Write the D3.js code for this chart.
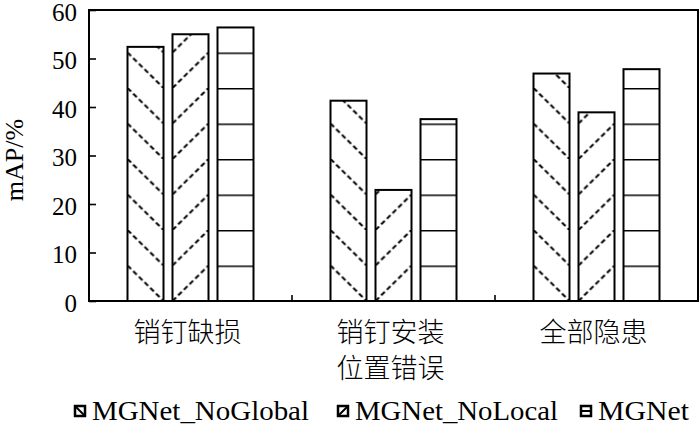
<!DOCTYPE html>
<html><head><meta charset="utf-8">
<script src="https://cdn.jsdelivr.net/npm/d3@7"></script>
<style>
html,body{margin:0;padding:0;background:#fff;}
svg{display:block;}
</style></head>
<body>
<svg id="chart" width="700" height="441"></svg>
<script>
const categories = ["销钉缺损", "销钉安装|位置错误", "全部隐患"];
const seriesNames = ["MGNet_NoGlobal", "MGNet_NoLocal", "MGNet"];
const noGlobal = [52.4, 41.3, 46.9];
const noLocal  = [55.0, 22.9, 38.9];
const mgnet    = [56.4, 37.5, 47.8];
const yTicks = [0, 10, 20, 30, 40, 50, 60];
const yLabel = "mAP/%";

const seriesValues = [noGlobal, noLocal, mgnet];
const svg = d3.select("#chart");
const L = 89, R = 698, T = 10, B = 301;
const serif = "Liberation Serif, DejaVu Serif, serif";
const cjk = "Noto Sans CJK SC, Noto Sans, sans-serif";

const x = d3.scaleBand().domain(categories).range([L, R]).paddingInner(0).paddingOuter(0);
const xs = d3.scaleBand().domain(seriesNames).range([38.5, 164.5]).paddingInner(0.2).paddingOuter(0);
const y = d3.scaleLinear().domain([0, 60]).range([B, T]);
const tileH = 35.5;

const defs = svg.append("defs");
const rows = [];
categories.forEach((c, ci) => seriesNames.forEach((s, si) => rows.push({c, ci, s, si, v: seriesValues[si][ci]})));

// per-bar patterns
rows.forEach((d, i) => {
  const bx = x(d.c) + xs(d.s), w = xs.bandwidth();
  const p = defs.append("pattern").attr("id", "pat" + i)
    .attr("patternUnits", "userSpaceOnUse")
    .attr("x", bx).attr("y", y(0)).attr("width", w).attr("height", tileH);
  p.append("rect").attr("width", w).attr("height", tileH).attr("fill", "#fff");
  if (d.si === 0) {
    p.append("line").attr("x1", 0).attr("y1", 0).attr("x2", w).attr("y2", tileH)
      .attr("stroke", "#000").attr("stroke-width", 2).attr("stroke-dasharray", "5,3");
  } else if (d.si === 1) {
    p.append("line").attr("x1", 0).attr("y1", tileH).attr("x2", w).attr("y2", 0)
      .attr("stroke", "#000").attr("stroke-width", 2).attr("stroke-dasharray", "5,3");
  } else {
    p.append("line").attr("x1", 0).attr("y1", 0.75).attr("x2", w).attr("y2", 0.75)
      .attr("stroke", "#000").attr("stroke-width", 1.6);
  }
});

// bars
svg.append("g").selectAll("rect").data(rows).join("rect")
  .attr("x", d => x(d.c) + xs(d.s))
  .attr("y", d => y(d.v))
  .attr("width", xs.bandwidth())
  .attr("height", d => y(0) - y(d.v))
  .attr("fill", (d, i) => `url(#pat${i})`)
  .attr("stroke", "#000").attr("stroke-width", 2);

// frame
svg.append("rect").attr("x", L).attr("y", T).attr("width", R - L).attr("height", B - T)
  .attr("fill", "none").attr("stroke", "#000").attr("stroke-width", 2);

// y axis
const yAxis = svg.append("g").attr("transform", `translate(${L},0)`)
  .call(d3.axisLeft(y).tickValues(yTicks).tickSize(-7).tickSizeOuter(0).tickPadding(13));
yAxis.select(".domain").remove();
yAxis.selectAll(".tick line").attr("stroke", "#000").attr("stroke-width", 1.6);
yAxis.selectAll(".tick text").attr("font-family", serif).attr("font-size", 25)
  .attr("fill", "#000").attr("x", -12).attr("dy", "0.4em");

// x axis category separators
svg.append("g").selectAll("line").data(categories.slice(0, -1)).join("line")
  .attr("x1", d => x(d) + x.bandwidth()).attr("x2", d => x(d) + x.bandwidth())
  .attr("y1", B).attr("y2", B - 6).attr("stroke", "#000").attr("stroke-width", 1.6);

const xAxis = svg.append("g").attr("transform", `translate(0,${B})`)
  .call(d3.axisBottom(x).tickSize(0).tickSizeOuter(0));
xAxis.select(".domain").remove();
xAxis.selectAll(".tick text").each(function(d) {
  const t = d3.select(this).text(null).attr("y", 0).attr("dy", null)
    .attr("font-family", cjk).attr("font-size", 27).attr("font-weight", 300).attr("fill", "#000");
  d.split("|").forEach((line, li) => {
    t.append("tspan").attr("x", -3).attr("y", 41 + li * 36).text(line);
  });
});

// y label
svg.append("text").attr("transform", "translate(23,160) rotate(-90)")
  .attr("text-anchor", "middle").attr("font-family", serif).attr("font-size", 26)
  .text(yLabel);

// legend
const legendX = [75, 338, 581];
const legendW = [217, 203, 91];
const lg = svg.append("g").selectAll("g").data(seriesNames).join("g")
  .attr("transform", (d, i) => `translate(${legendX[i]},406)`);
lg.append("rect").attr("x", 0).attr("y", 0).attr("width", 10).attr("height", 10)
  .attr("fill", "#fff").attr("stroke", "#000").attr("stroke-width", 2.5);
lg.append("line")
  .attr("x1", 0).attr("y1", (d, i) => i === 0 ? 0 : i === 1 ? 10 : 5)
  .attr("x2", 10).attr("y2", (d, i) => i === 0 ? 10 : i === 1 ? 0 : 5)
  .attr("stroke", "#000").attr("stroke-width", 2);
lg.append("text").attr("x", 17).attr("y", 14).attr("font-family", serif).attr("font-size", 28)
  .attr("textLength", (d, i) => legendW[i]).attr("lengthAdjust", "spacingAndGlyphs")
  .attr("fill", "#000").text(d => d);
</script>
</body></html>
